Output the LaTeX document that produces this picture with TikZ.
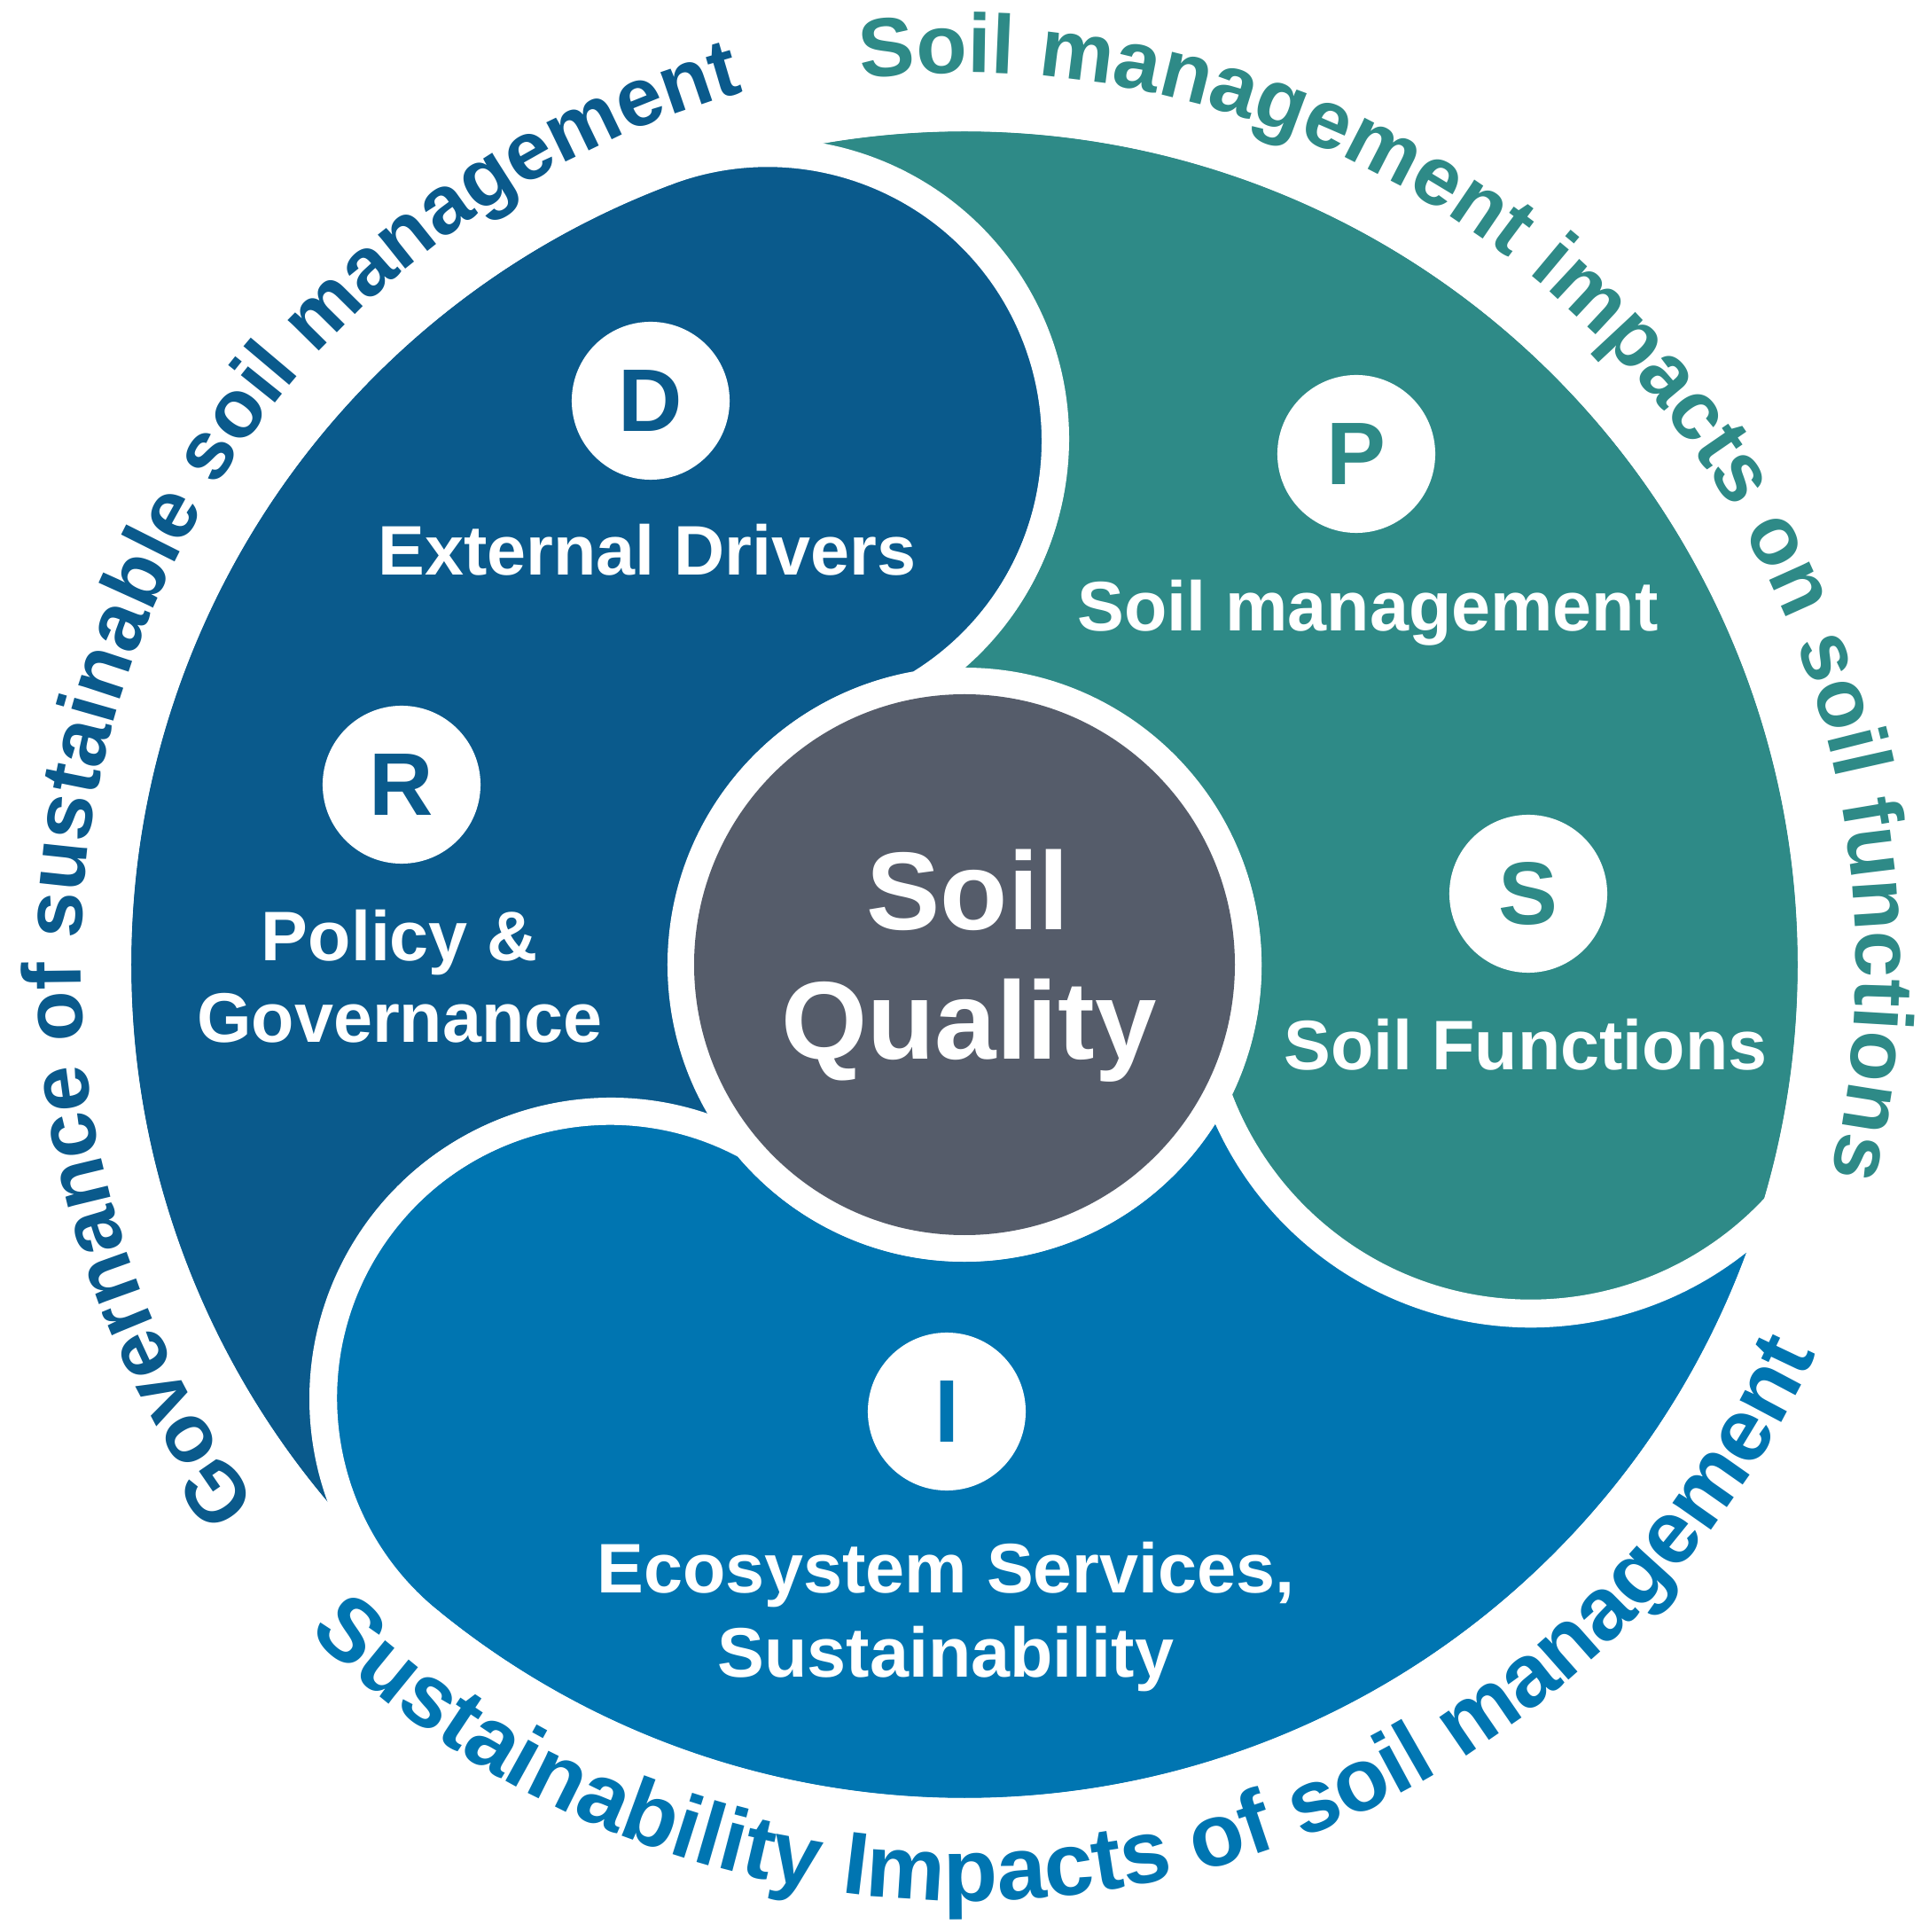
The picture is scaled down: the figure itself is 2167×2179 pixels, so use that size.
\documentclass[tikz,border=0pt]{standalone}
\usepackage{fontspec}
\setmainfont{Liberation Sans}
\usetikzlibrary{decorations.text}
\definecolor{cA}{HTML}{0A5A8C}
\definecolor{cB}{HTML}{2E8A87}
\definecolor{cC}{HTML}{0075B1}
\definecolor{cG}{HTML}{555C6A}
\newcommand{\arcfont}[2]{\color{#1}\fontsize{#2}{#2}\selectfont\bfseries}
% head A (dark blue): centre (110.6:631), r 324
% head C (blue):      centre (230.8:631), r 324
% head B (teal):      centre (639,-17),   r 376
\newcommand{\pathA}{(110.6:955) arc[start angle=110.6, end angle=230.8, radius=955]
  arc[start angle=230.8, end angle=61.6, radius=324]
  arc[start angle=219.8, end angle=99.6, radius=320]
  arc[start angle=-58.6, end angle=110.6, radius=324] -- cycle}
\newcommand{\pathC}{(230.8:955) arc[start angle=230.8, end angle=343.5, radius=955]
  arc[start angle=317.4, end angle=199.9, radius=376]
  arc[start angle=333.1, end angle=219.8, radius=320]
  arc[start angle=61.6, end angle=230.8, radius=324] -- cycle}
\newcommand{\pathB}{(343.5:955) arc[start angle=343.5, end angle=470.6, radius=955]
  arc[start angle=470.6, end angle=301.4, radius=324]
  arc[start angle=459.6, end angle=333.1, radius=320]
  arc[start angle=199.9, end angle=317.4, radius=376] -- cycle}
\tikzset{
  letterc/.style={circle, fill=white, minimum size=1.78cm, inner sep=0pt,
    font=\fontsize{28.5pt}{28.5pt}\selectfont\bfseries},
  lab/.style={text=white, anchor=base, inner sep=0pt, align=center,
    font=\fontsize{22.5pt}{26pt}\selectfont\bfseries},
  big/.style={text=white, anchor=base, inner sep=0pt,
    font=\fontsize{35.5pt}{40pt}\selectfont\bfseries},
  gap/.style={draw=white, line width=0.3cm, line join=round}
}
\begin{document}
\begin{tikzpicture}[x=0.01cm, y=0.01cm]
\fill[white] (-1088,-1091) rectangle (1079,1088);
\useasboundingbox (-1088,-1091) rectangle (1079,1088);
% pieces
\fill[cA] \pathA;
\fill[cB] \pathB;
\fill[cC] \pathC;
% white gaps
\draw[gap] \pathA;
\draw[gap] \pathB;
\draw[gap] \pathC;
\draw[gap] (0,0) circle[radius=955];
\draw[gap] (0,0) circle[radius=320];
\fill[cG] (0,0) circle[radius=305];
% centre text
\node[big] (soil) at (4,39) {Soil};
\node[big] (quality) at (5,-107) {Quality};
% letters
\node[letterc, text=cA] (D) at (-354,636) {D};
\node[letterc, text=cA] (R) at (-635,203) {R};
\node[letterc, text=cB] (P) at (442,576) {P};
\node[letterc, text=cB] (S) at (636,80) {S};
\node[letterc, text=cC] (I) at (-20,-504) {I};
% labels
\node[lab] (ext) at (-358,439) {External Drivers};
\node[lab] (pol) at (-637,4) {Policy \&};
\node[lab] (gov) at (-637,-88) {Governance};
\node[lab] (sm) at (455,376) {Soil management};
\node[lab] (sf) at (633,-119) {Soil Functions};
\node[lab] (es) at (-21,-708) {Ecosystem Services,};
\node[lab] (su) at (-21,-803) {Sustainability};
% arc texts
\path[decorate, decoration={text along path, text align=center,
  text={|\arcfont{cA}{26.5pt}|Governance of sustainable soil management}}]
  (25,0) ++(219:1022) arc[start angle=219, end angle=103, radius=1022];
\path[decorate, decoration={text along path, text align=center,
  text={|\arcfont{cB}{26.7pt}|Soil management impacts on soil functions}}]
  (97.5:1006) arc[start angle=97.5, end angle=-14.5, radius=1006];
\path[decorate, decoration={text along path, text align=center,
  text={|\arcfont{cC}{28.5pt}|Sustainability Impacts of soil management}}]
  (222:1056) arc[start angle=222, end angle=339, radius=1056];
\end{tikzpicture}
\end{document}
